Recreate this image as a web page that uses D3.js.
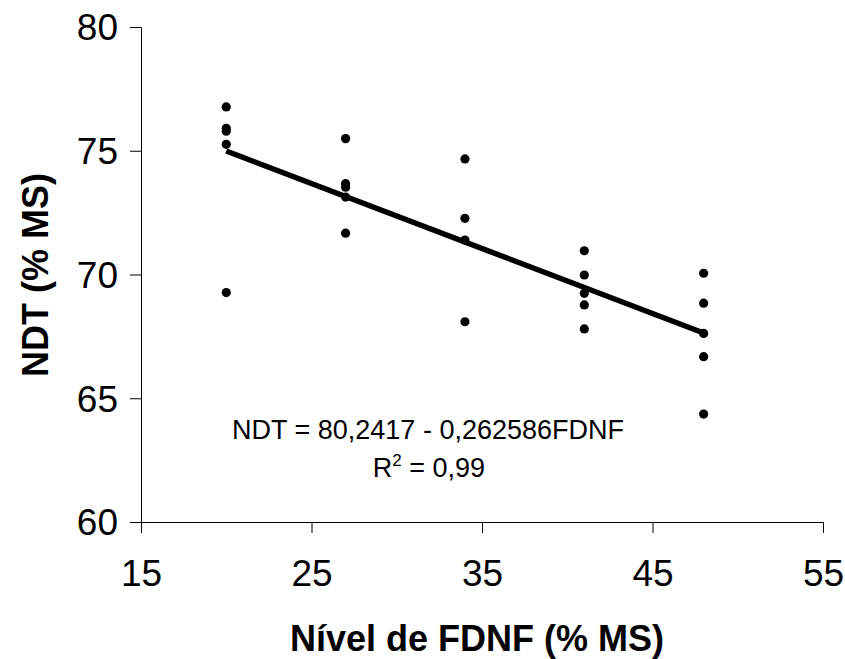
<!DOCTYPE html>
<html>
<head>
<meta charset="utf-8">
<script src="https://d3js.org/d3.v7.min.js"></script>
<style>
  body { margin: 0; background: #fff; }
  text { font-family: "Liberation Sans", Arial, sans-serif; fill: #000; }
</style>
</head>
<body>
<svg width="845" height="659"></svg>
<script>
var fdnf = [20, 20, 20, 20, 20,
            27, 27, 27, 27, 27,
            34, 34, 34, 34,
            41, 41, 41, 41, 41,
            48, 48, 48, 48, 48];
var ndt = [76.77, 75.91, 75.79, 75.26, 69.27,
           75.49, 73.67, 73.53, 73.13, 71.67,
           74.67, 72.27, 71.39, 68.09,
           70.96, 69.98, 69.24, 68.77, 67.80,
           70.05, 68.84, 67.62, 66.68, 64.36];

// regression: NDT = 80,2417 - 0,262586 FDNF
var intercept = 80.2417, slope = -0.262586;
var fitRange = [20, 48];

var xTicks = [15, 25, 35, 45, 55];
var yTicks = [60, 65, 70, 75, 80];

var svg = d3.select("svg");

var x = d3.scaleLinear().domain([15, 55]).range([141, 823]);
var y = d3.scaleLinear().domain([60, 80]).range([522, 27]);

// axes
var xAxis = svg.append("g")
    .attr("transform", "translate(0,522)")
    .call(d3.axisBottom(x).tickValues(xTicks).tickSize(11).tickSizeOuter(0));
xAxis.selectAll("text").attr("y", 38).attr("dy", "0.71em").style("font-size", "37px");

var yAxis = svg.append("g")
    .attr("transform", "translate(141,0)")
    .call(d3.axisLeft(y).tickValues(yTicks).tickSize(11).tickSizeOuter(0));
yAxis.selectAll("text").attr("x", -23).attr("dy", "0.35em").style("font-size", "37px");

svg.selectAll(".domain, .tick line").attr("stroke", "#000").attr("stroke-width", 1);
svg.selectAll(".tick text").attr("font-family", null);

// fitted line
svg.append("line")
    .attr("x1", x(fitRange[0])).attr("y1", y(intercept + slope * fitRange[0]))
    .attr("x2", x(fitRange[1])).attr("y2", y(intercept + slope * fitRange[1]))
    .attr("stroke", "#000").attr("stroke-width", 5.5);

// points
svg.selectAll("circle.pt")
  .data(d3.range(fdnf.length))
  .join("circle")
    .attr("class", "pt")
    .attr("cx", function(i) { return x(fdnf[i]); })
    .attr("cy", function(i) { return y(ndt[i]); })
    .attr("r", 4.6)
    .attr("fill", "#000");

// equation
svg.append("text")
    .attr("x", 428).attr("y", 439)
    .attr("text-anchor", "middle")
    .style("font-size", "27px")
    .text("NDT = 80,2417 - 0,262586FDNF");

var r2 = svg.append("text")
    .attr("x", 429).attr("y", 477)
    .attr("text-anchor", "middle")
    .style("font-size", "27px");
r2.append("tspan").text("R");
r2.append("tspan").attr("dy", -11).style("font-size", "17px").text("2");
r2.append("tspan").attr("dy", 11).text(" = 0,99");

// axis titles
svg.append("text")
    .attr("x", 477).attr("y", 651)
    .attr("text-anchor", "middle")
    .style("font-size", "36px").style("font-weight", "bold")
    .text("Nível de FDNF (% MS)");

svg.append("text")
    .attr("transform", "translate(48,275) rotate(-90)")
    .attr("text-anchor", "middle")
    .style("font-size", "36px").style("font-weight", "bold")
    .text("NDT (% MS)");
</script>
</body>
</html>
